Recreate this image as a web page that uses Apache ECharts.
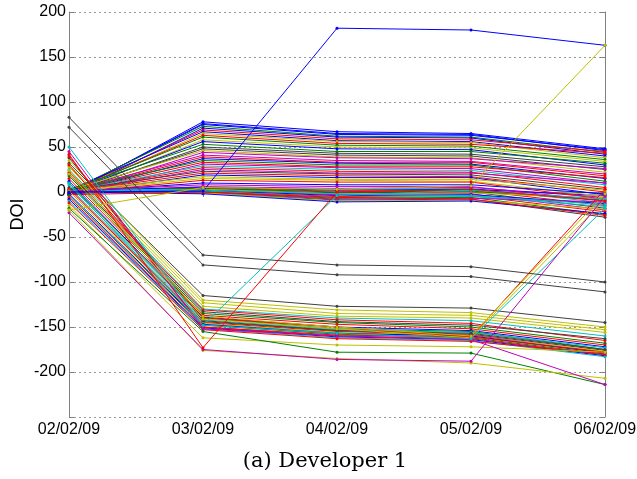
<!DOCTYPE html>
<html>
<head>
<meta charset="utf-8">
<script src="https://cdn.jsdelivr.net/npm/echarts@6/dist/echarts.min.js"></script>
<style>
  html, body { margin: 0; padding: 0; background: #fff; }
  #main { width: 637px; height: 479px; }
</style>
</head>
<body>
<div id="main"></div>
<script>
  // dates on the x axis
  const days = ['02/02/09', '03/02/09', '04/02/09', '05/02/09', '06/02/09']
  const yTicks = [-250, 200, 50]

  // lines that rise on 03/02 and stay up
  const upLines = [
    [-2, 78, 67, 65, 48], [-1, 76, 65, 64, 46], [0, 75, 64, 63, 47], [1, 73, 62, 61, 44],
    [-3, 71, 61, 60, 42], [0, 69, 59, 58, 45], [2, 67, 57, 56, 40], [-1, 65, 56, 55, 38],
    [0, 63, 54, 53, 43], [1, 61, 52, 51, 36], [-2, 58, 50, 49, 34], [0, 56, 48, 47, 30],
    [3, 53, 45, 45, 32], [-1, 50, 43, 42, 28], [0, 48, 41, 40, 25], [2, 46, 39, 38, 22],
    [-2, 44, 38, 37, 26], [1, 41, 35, 34, 20], [0, 39, 33, 33, 18], [-1, 37, 32, 31, 15],
    [2, 35, 30, 30, 12], [0, 33, 28, 28, 16], [-3, 31, 27, 26, 10], [1, 29, 25, 24, 8],
    [0, 27, 23, 22, 5], [-1, 25, 21, 21, 10], [2, 23, 20, 19, 3], [0, 21, 18, 17, 0],
    [-2, 19, 16, 16, -3], [1, 17, 14, 14, 2], [0, 15, 13, 12, -5], [-1, 13, 11, 11, -8],
    [0, 10, 8, 8, -2], [1, 8, 6, 6, -10]
  ]
  // lines that stay near zero
  const flatLines = [
    [0, 6, 4, 5, -6], [-1, 5, 3, 4, -12], [2, 5, 2, 3, -4], [0, 4, 1, 2, -15],
    [1, 4, 0, 1, -9], [-2, 3, -1, 0, -18], [0, 3, -2, -1, -7], [1, 2, -3, -2, -20],
    [-1, 2, -4, -3, -13], [0, 1, -5, -4, -22], [2, 1, -6, -5, -16], [0, 0, -7, -6, -25],
    [-1, 0, -8, -7, -11], [1, -1, -9, -8, -28], [0, -1, -10, -9, -19], [0, -2, -11, -10, -24],
    [-3, 0, -6, -8, -26], [4, 2, -2, -4, -14]
  ]
  // lines that drop on 03/02
  const downLines = [
    [32, -115, -127, -129, -145], [35, -120, -131, -134, -150], [30, -123, -135, -137, -153],
    [28, -127, -138, -140, -156], [25, -130, -140, -143, -160], [22, -131, -142, -146, -165],
    [20, -133, -144, -148, -163], [18, -135, -145, -150, -168], [15, -137, -147, -152, -170],
    [12, -139, -150, -154, -172], [10, -140, -152, -155, -175], [8, -142, -153, -156, -173],
    [5, -144, -154, -158, -176], [3, -145, -155, -159, -178], [1, -146, -156, -160, -177],
    [-2, -147, -157, -160, -179], [-4, -148, -158, -162, -180], [-6, -150, -160, -163, -181],
    [-8, -151, -161, -164, -182], [-10, -152, -162, -165, -183], [-12, -153, -163, -166, -180],
    [38, -143, -154, -157, -175], [40, -150, -159, -161, -178], [-15, -162, -170, -172, -178],
    [-18, -155, -178, -179, -214], [-20, -176, -185, -190, -207], [45, -152, -160, -164, -214]
  ]
  // dropped lines that come back on 06/02
  const backLines = [
    [30, -140, -150, -161, 3], [24, -138, -150, -160, -2], [20, -141, -152, -162, -8],
    [10, -148, -157, -163, -18], [-23, -175, -186, -188, -5]
  ]
  // single odd lines
  const grayLines = [[83, -70, -81, -83, -100], [72, -81, -92, -94, -111]]
  const jumpLines = [[50, -148, -4, 2, -8], [42, -173, 0, 3, -10]]
  const blueLine = [0, 1, 182, 180, 163]
  const yellowLine = [-20, 5, 3, 7, 163]

  // matlab colour order
  const palette = { b: '#0000ff', g: '#008000', r: '#ff0000', c: '#00bfbf', m: '#bf00bf', y: '#bfbf00', k: '#404040' }
  const upColors = 'bbbgbrbyrgybgkkymmrbgrmcrmkrbyyrbm'
  const flatColors = 'mcbrgkymbrcgmkybrc'
  const downColors = 'kyyycrkgrbgckrybgrbcrkrygym'
  const backColors = 'ryycm'

  function makeSeries (rows, colors) {
    return rows.map((r, i) => ({
      type: 'line',
      data: r,
      symbol: 'circle',
      symbolSize: 3,
      color: palette[colors[i % colors.length]],
      lineStyle: { width: 1 },
      emphasis: { disabled: true }
    }))
  }

  const series = [].concat(
    makeSeries(flatLines, flatColors),
    makeSeries(upLines, upColors),
    makeSeries(downLines, downColors),
    makeSeries(backLines, backColors),
    makeSeries(grayLines, 'kk'),
    makeSeries(jumpLines, 'cr'),
    makeSeries([blueLine], 'b'),
    makeSeries([yellowLine], 'y')
  )

  const axisGray = '#808080'
  const tickFont = { color: '#000', fontSize: 16, fontFamily: 'Liberation Sans' }

  const chart = echarts.init(document.getElementById('main'))
  chart.setOption({
    animation: false,
    grid: { left: 69, right: 32, top: 12, bottom: 62, outerBoundsMode: 'none', containLabel: false },
    xAxis: [
      {
        type: 'category',
        data: days,
        boundaryGap: false,
        axisLine: { lineStyle: { color: axisGray } },
        axisTick: { inside: true, length: 5, lineStyle: { color: axisGray } },
        axisLabel: Object.assign({ margin: 5 }, tickFont),
        splitLine: { show: false }
      },
      {
        type: 'category',
        data: days,
        boundaryGap: false,
        position: 'top',
        axisLine: { lineStyle: { color: axisGray } },
        axisTick: { inside: true, length: 5, lineStyle: { color: axisGray } },
        axisLabel: { show: false },
        splitLine: { show: false }
      }
    ],
    yAxis: [
      {
        type: 'value',
        min: yTicks[0],
        max: yTicks[1],
        interval: yTicks[2],
        name: 'DOI',
        nameLocation: 'middle',
        nameGap: 42,
        nameMoveOverlap: false,
        nameTextStyle: { color: '#000', fontSize: 18, fontFamily: 'Liberation Sans' },
        axisLine: { show: true, lineStyle: { color: axisGray } },
        axisTick: { show: true, inside: true, length: 5, lineStyle: { color: axisGray } },
        axisLabel: Object.assign({
          margin: 3,
          formatter: v => (v === yTicks[0] ? '' : String(v))
        }, tickFont),
        splitLine: { lineStyle: { color: '#999', type: [2, 3], width: 1 } }
      },
      {
        type: 'value',
        min: yTicks[0],
        max: yTicks[1],
        interval: yTicks[2],
        position: 'right',
        axisLine: { show: true, lineStyle: { color: axisGray } },
        axisTick: { show: true, inside: true, length: 5, lineStyle: { color: axisGray } },
        axisLabel: { show: false },
        splitLine: { show: false }
      }
    ],
    graphic: [
      {
        type: 'text',
        x: 325,
        y: 451,
        style: { text: '(a) Developer 1', fontSize: 21, fontFamily: 'DejaVu Serif', fill: '#000', align: 'center' }
      }
    ],
    series: series
  })
</script>
</body>
</html>
